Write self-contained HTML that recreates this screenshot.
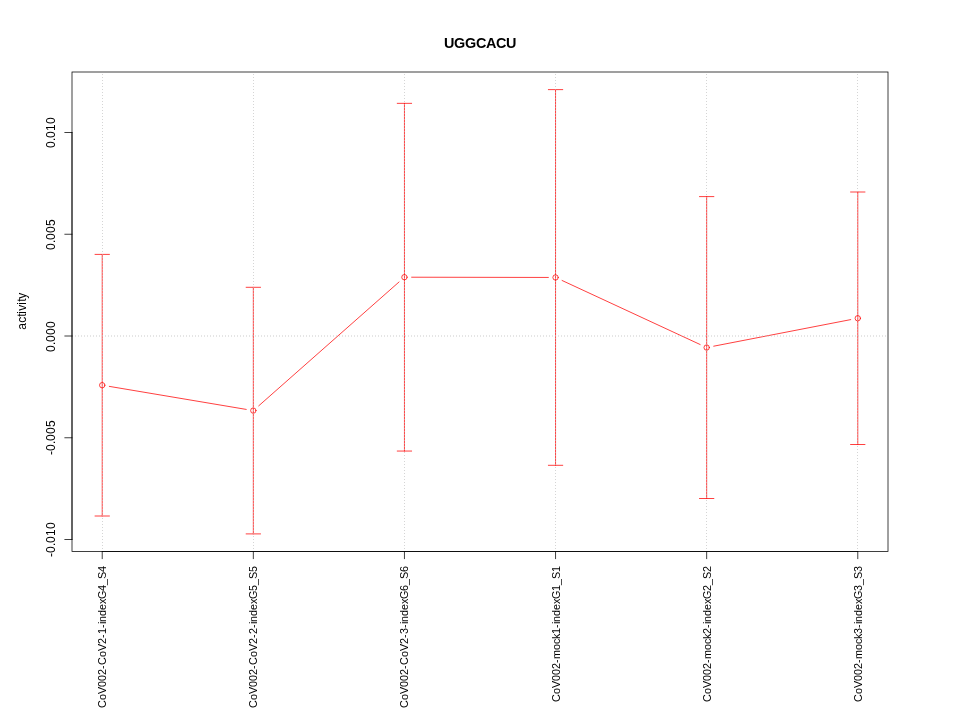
<!DOCTYPE html>
<html><head><meta charset="utf-8"><title>UGGCACU</title>
<style>
html,body{margin:0;padding:0;background:#fff;overflow:hidden;width:960px;height:720px;}
svg{display:block;will-change:transform;}
text{font-family:"Liberation Sans",Arial,sans-serif;font-size:12px;fill:#000;}
.r{stroke:#ff0000;stroke-width:0.75;stroke-linecap:round;}
.k{stroke:#000;stroke-width:0.75;stroke-linecap:round;}
.gv{stroke:rgba(190,190,190,0.65);stroke-width:1;stroke-dasharray:1 2;stroke-linecap:butt;}
.gh{stroke:rgba(190,190,190,0.8);stroke-width:1;stroke-dasharray:1 2;stroke-linecap:butt;}
</style></head><body>
<svg width="960" height="720" viewBox="0 0 960 720">
<rect width="960" height="720" fill="#fff"/>
<line x1="109.32" y1="386.39" x2="246.23" y2="409.41" class="r"/>
<line x1="258.73" y1="405.83" x2="399.04" y2="281.97" class="r"/>
<line x1="411.64" y1="277.21" x2="548.36" y2="277.45" class="r"/>
<line x1="562.09" y1="280.49" x2="700.14" y2="344.52" class="r"/>
<line x1="713.74" y1="346.18" x2="850.71" y2="319.62" class="r"/>
<circle cx="102.22" cy="385.20" r="2.7" class="r" fill="none"/>
<circle cx="253.33" cy="410.60" r="2.7" class="r" fill="none"/>
<circle cx="404.44" cy="277.20" r="2.7" class="r" fill="none"/>
<circle cx="555.56" cy="277.46" r="2.7" class="r" fill="none"/>
<circle cx="706.67" cy="347.55" r="2.7" class="r" fill="none"/>
<circle cx="857.78" cy="318.25" r="2.7" class="r" fill="none"/>
<line x1="102.22" y1="254.40" x2="102.22" y2="516.00" class="r"/>
<line x1="95.02" y1="254.40" x2="109.42" y2="254.40" class="r"/>
<line x1="95.02" y1="516.00" x2="109.42" y2="516.00" class="r"/>
<line x1="253.33" y1="287.30" x2="253.33" y2="533.90" class="r"/>
<line x1="246.13" y1="287.30" x2="260.53" y2="287.30" class="r"/>
<line x1="246.13" y1="533.90" x2="260.53" y2="533.90" class="r"/>
<line x1="404.44" y1="103.35" x2="404.44" y2="451.05" class="r"/>
<line x1="397.24" y1="103.35" x2="411.64" y2="103.35" class="r"/>
<line x1="397.24" y1="451.05" x2="411.64" y2="451.05" class="r"/>
<line x1="555.56" y1="89.62" x2="555.56" y2="465.30" class="r"/>
<line x1="548.36" y1="89.62" x2="562.76" y2="89.62" class="r"/>
<line x1="548.36" y1="465.30" x2="562.76" y2="465.30" class="r"/>
<line x1="706.67" y1="196.60" x2="706.67" y2="498.50" class="r"/>
<line x1="699.47" y1="196.60" x2="713.87" y2="196.60" class="r"/>
<line x1="699.47" y1="498.50" x2="713.87" y2="498.50" class="r"/>
<line x1="857.78" y1="192.00" x2="857.78" y2="444.50" class="r"/>
<line x1="850.58" y1="192.00" x2="864.98" y2="192.00" class="r"/>
<line x1="850.58" y1="444.50" x2="864.98" y2="444.50" class="r"/>
<line x1="102.5" y1="74" x2="102.5" y2="551" class="gv"/>
<line x1="253.5" y1="74" x2="253.5" y2="551" class="gv"/>
<line x1="404.5" y1="74" x2="404.5" y2="551" class="gv"/>
<line x1="555.5" y1="74" x2="555.5" y2="551" class="gv"/>
<line x1="706.5" y1="74" x2="706.5" y2="551" class="gv"/>
<line x1="857.5" y1="74" x2="857.5" y2="551" class="gv"/>
<line x1="72.0" y1="336.00" x2="888.0" y2="336.00" class="gh"/>
<rect x="72.0" y="72.0" width="816.0" height="479.5" class="k" fill="none"/>
<line x1="72.0" y1="132.50" x2="72.0" y2="539.50" class="k"/>
<line x1="72.0" y1="132.50" x2="64.80" y2="132.50" class="k"/>
<text transform="translate(55.1,148.00) rotate(-90)" x="0 7 10 17 24">0.010</text>
<line x1="72.0" y1="234.25" x2="64.80" y2="234.25" class="k"/>
<text transform="translate(55.1,250.00) rotate(-90)" x="0 7 10 17 24">0.005</text>
<line x1="72.0" y1="336.00" x2="64.80" y2="336.00" class="k"/>
<text transform="translate(55.1,352.00) rotate(-90)" x="0 7 10 17 24">0.000</text>
<line x1="72.0" y1="437.75" x2="64.80" y2="437.75" class="k"/>
<text transform="translate(55.1,455.00) rotate(-90)" x="0 4 11 14 21 28">-0.005</text>
<line x1="72.0" y1="539.50" x2="64.80" y2="539.50" class="k"/>
<text transform="translate(55.1,557.00) rotate(-90)" x="0 4 11 14 21 28">-0.010</text>
<line x1="102.22" y1="551.5" x2="857.78" y2="551.5" class="k"/>
<line x1="102.22" y1="551.5" x2="102.22" y2="558.70" class="k"/>
<text transform="translate(106.22,707.90) rotate(-90)" x="0 8 14 21 27 33 39 43 51 57 64 70 74 80 84 86 92 98 104 109 117 123 129 136" style="font-size:10.8px">CoV002-CoV2-1-indexG4_S4</text>
<line x1="253.33" y1="551.5" x2="253.33" y2="558.70" class="k"/>
<text transform="translate(257.33,707.90) rotate(-90)" x="0 8 14 21 27 33 39 43 51 57 64 70 74 80 84 86 92 98 104 109 117 123 129 136" style="font-size:10.8px">CoV002-CoV2-2-indexG5_S5</text>
<line x1="404.44" y1="551.5" x2="404.44" y2="558.70" class="k"/>
<text transform="translate(408.44,707.90) rotate(-90)" x="0 8 14 21 27 33 39 43 51 57 64 70 74 80 84 86 92 98 104 109 117 123 129 136" style="font-size:10.8px">CoV002-CoV2-3-indexG6_S6</text>
<line x1="555.56" y1="551.5" x2="555.56" y2="558.70" class="k"/>
<text transform="translate(559.56,701.90) rotate(-90)" x="0 8 14 21 27 33 39 43 52 58 63 68 74 78 80 86 92 98 103 111 117 123 130" style="font-size:10.8px">CoV002-mock1-indexG1_S1</text>
<line x1="706.67" y1="551.5" x2="706.67" y2="558.70" class="k"/>
<text transform="translate(710.67,701.90) rotate(-90)" x="0 8 14 21 27 33 39 43 52 58 63 68 74 78 80 86 92 98 103 111 117 123 130" style="font-size:10.8px">CoV002-mock2-indexG2_S2</text>
<line x1="857.78" y1="551.5" x2="857.78" y2="558.70" class="k"/>
<text transform="translate(861.78,701.90) rotate(-90)" x="0 8 14 21 27 33 39 43 52 58 63 68 74 78 80 86 92 98 103 111 117 123 130" style="font-size:10.8px">CoV002-mock3-indexG3_S3</text>
<text transform="translate(25.8,329.75) rotate(-90)" x="0 7 13 16 19 25 28 31">activity</text>
<text y="47.5" x="444.0 454.0 465.0 476.0 486.0 496.0 506.0" style="font-weight:bold;font-size:14.4px">UGGCACU</text>
</svg>
</body></html>
